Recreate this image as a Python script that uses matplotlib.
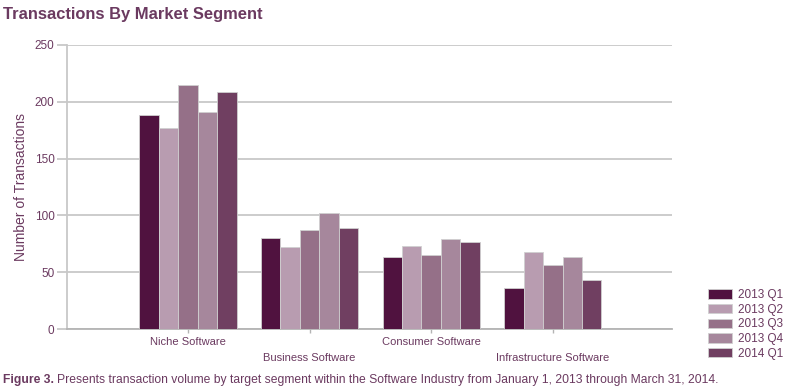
import matplotlib
matplotlib.use("Agg")
import matplotlib.pyplot as plt
import numpy as np

plt.rcParams['font.family'] = ['Liberation Sans', 'DejaVu Sans']

segments = ["Niche Software", "Business Software", "Consumer Software", "Infrastructure Software"]
quarters = ["2013 Q1", "2013 Q2", "2013 Q3", "2013 Q4", "2014 Q1"]
values = {
    "2013 Q1": [188, 80, 63, 36],
    "2013 Q2": [177, 72, 73, 68],
    "2013 Q3": [215, 87, 65, 56],
    "2013 Q4": [191, 102, 79, 63],
    "2014 Q1": [209, 89, 77, 43],
}
colors = ["#50123f", "#b89cb0", "#957088", "#a6879c", "#703f61"]
text_col = "#6b3a60"
grid_col = "#c8c8c8"

W, H = 789, 388
fig = plt.figure(figsize=(W / 100, H / 100), dpi=100)
ax = fig.add_axes([67 / W, 1 - 329 / H, (672 - 67) / W, (329 - 45) / H])

x = np.arange(len(segments))
bw = 0.16
for i, q in enumerate(quarters):
    ax.bar(x + (i - 2) * bw, values[q], width=bw, color=colors[i],
           edgecolor="#d0d0d0", linewidth=0.6, label=q, zorder=3)

ax.set_xlim(-0.995, 3.98)
ax.set_ylim(0, 250)
ax.set_yticks([0, 50, 100, 150, 200, 250])
ax.yaxis.grid(True, color=grid_col, linewidth=1.3, zorder=0)
ax.set_axisbelow(True)
for s in ["top", "right"]:
    ax.spines[s].set_visible(False)
ax.spines["left"].set_color(grid_col)
ax.spines["left"].set_linewidth(1.3)
ax.spines["bottom"].set_color("#b4b4b4")
ax.spines["bottom"].set_linewidth(1.3)

ax.tick_params(axis="y", length=7, color=grid_col, width=1.3, labelsize=8.5,
               labelcolor=text_col, pad=2)
ax.tick_params(axis="x", length=3, color="#b4b4b4", width=1, labelsize=8,
               labelcolor=text_col, pad=3)
ax.set_xticks(x)
ax.set_xticklabels(segments)
for i, lab in enumerate(ax.get_xticklabels()):
    if i % 2 == 1:
        lab.set_y(-0.056)

ax.set_ylabel("Number of Transactions", fontsize=10, color=text_col, labelpad=5)

fig.text(3 / W, 1 - 15 / H, "Transactions By Market Segment", fontsize=11.9,
         fontweight="bold", color=text_col, va="center", ha="left")

leg = fig.legend(loc="upper left", bbox_to_anchor=(708 / W, 1 - 289 / H),
                 frameon=False, fontsize=8.5, labelcolor=text_col,
                 handlelength=2.0, handleheight=0.85, handletextpad=0.5,
                 labelspacing=0.23, borderpad=0, borderaxespad=0)

t1 = fig.text(3 / W, 1 - 380 / H, "Figure 3.", fontsize=8.75, fontweight="bold",
              color=text_col, va="center", ha="left")
fig.canvas.draw()
bb = t1.get_window_extent()
fig.text((bb.x1 + 3) / W, 1 - 380 / H,
         "Presents transaction volume by target segment within the Software Industry from January 1, 2013 through March 31, 2014.",
         fontsize=8.75, color=text_col, va="center", ha="left")

fig.savefig("out.png", dpi=100)
